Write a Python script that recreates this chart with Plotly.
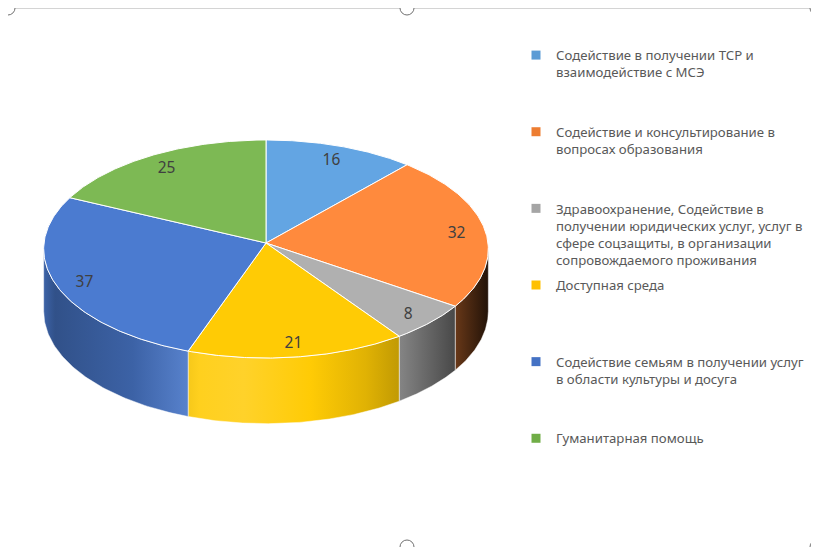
import numpy as np
import plotly.graph_objects as go

categories = [
    "Содействие в получении ТСР и<br>взаимодействие с МСЭ",
    "Содействие и консультирование в<br>вопросах образования",
    "Здравоохранение, Содействие в<br>получении юридических услуг, услуг в<br>сфере соцзащиты, в организации<br>сопровождаемого проживания",
    "Доступная среда",
    "Содействие семьям в получении услуг<br>в области культуры и досуга",
    "Гуманитарная помощь",
]
values = [16, 32, 8, 21, 37, 25]

face_colors = ["#63A5E3", "#FF8A3D", "#B0B0B0", "#FFCB05", "#4B7BD0", "#7DB954"]
legend_colors = ["#5B9BD5", "#ED7D31", "#A5A5A5", "#FFC000", "#4472C4", "#70AD47"]

# page is 819x547 but the body has an 8px margin, so the figure starts at (8, 8);
# axes are set so one unit is one page pixel
W, H = 819, 547
OFF = 8
CX, CY = 266, 243
RX, RY = 222, 108.7
PERSP = 0.055
DEPTH = 62
LABEL_R, LABEL_DY = 0.87, 3
# brightness of the side wall across the pie width (u from -1 to 1)
shade = [(-1.0, 0.8), (-0.95, 0.66), (-0.6, 0.8), (-0.3, 1.04), (-0.1, 1.06),
         (0.2, 1.0), (0.45, 0.88), (0.6, 0.76), (0.85, 0.42), (0.88, 0.36), (1.0, 0.14)]


def project(theta, r=1.0, z=0.0):
    t = np.radians(theta)
    px = r * np.sin(t)
    py = -r * np.cos(t)
    f = 1.0 / (1.0 - PERSP * py)
    return CX + RX * px * f, CY + (RY * py + DEPTH * z) * f


def tint(hexcol, b):
    rgb = np.array([int(hexcol[i:i + 2], 16) for i in (1, 3, 5)], dtype=float)
    if b <= 1:
        rgb = rgb * b
    else:
        rgb = rgb + (255 - rgb) * min(1.0, (b - 1) * 2.5)
    return "rgb(%d,%d,%d)" % tuple(np.clip(rgb, 0, 255))


total = sum(values)
edges = np.concatenate([[0], np.cumsum(values)]) / total * 360
t_lo = np.degrees(np.arccos(-PERSP))
t_hi = 360 - t_lo

fig = go.Figure()

# side walls
for i, col in enumerate(face_colors):
    s0, s1 = max(edges[i], t_lo), min(edges[i + 1], t_hi)
    if s0 >= s1:
        continue
    th = np.linspace(s0, s1, 80)
    xt, yt = project(th)
    xb, yb = project(th[::-1], z=1.0)
    fig.add_trace(go.Scatter(
        x=np.concatenate([xt, xb, xt[:1]]), y=np.concatenate([yt, yb, yt[:1]]),
        mode="lines", fill="toself",
        line=dict(color="rgba(255,255,255,0.6)", width=0.8),
        fillgradient=dict(type="horizontal", start=CX - RX, stop=CX + RX,
                          colorscale=[[(u + 1) / 2, tint(col, b)] for u, b in shade]),
        hoverinfo="skip", showlegend=False,
    ))

# top faces
for i, col in enumerate(face_colors):
    th = np.linspace(edges[i], edges[i + 1], 120)
    xs, ys = project(th)
    fig.add_trace(go.Scatter(
        x=np.concatenate([[CX], xs, [CX]]), y=np.concatenate([[CY], ys, [CY]]),
        mode="lines", fill="toself", fillcolor=col,
        line=dict(color="white", width=1),
        hoverinfo="skip", showlegend=False,
    ))

# data labels
mids = (edges[:-1] + edges[1:]) / 2
lx, ly = project(mids, r=LABEL_R)
fig.add_trace(go.Scatter(
    x=lx, y=ly + LABEL_DY, mode="text", text=[str(v) for v in values],
    textfont=dict(family="Noto Sans", size=15.5, color="#404040"),
    hoverinfo="skip", showlegend=False,
))

# legend entries
for name, col in zip(categories, legend_colors):
    pad = 4 - name.count("<br>") - 1
    fig.add_trace(go.Scatter(
        x=[None], y=[None], mode="markers", name=name + "<br>\u00a0" * pad,
        legendgroup=name,
        marker=dict(symbol="square", size=9, color=col),
    ))

fw, fh = W - OFF, H - OFF
fig.update_layout(
    width=fw, height=fh,
    margin=dict(l=0, r=0, t=0, b=0),
    paper_bgcolor="white", plot_bgcolor="white",
    xaxis=dict(range=[OFF, W], visible=False, fixedrange=True),
    yaxis=dict(range=[H, OFF], visible=False, fixedrange=True),
    legend=dict(
        x=(516 - OFF) / fw, y=1 - (40 - OFF) / fh, xanchor="left", yanchor="top",
        valign="top", tracegroupgap=5,
        font=dict(family="Noto Sans", size=13.2, color="#595959"),
        bgcolor="rgba(0,0,0,0)",
    ),
    shapes=[
        dict(type="line", x0=0, x1=W, y0=OFF + 0.5, y1=OFF + 0.5, line=dict(color="#d4d4d4", width=1)),
        dict(type="line", x0=817, x1=817, y0=0, y1=H, line=dict(color="#d4d4d4", width=1)),
    ] + [
        dict(type="circle", x0=hx - 7, x1=hx + 7, y0=hy - 7, y1=hy + 7,
             line=dict(color="#707070", width=1), fillcolor="white")
        for hx, hy in [(OFF, OFF), (407, OFF), (817, OFF), (407, 547), (817, 547)]
    ],
)

fig.write_html("out.html")
